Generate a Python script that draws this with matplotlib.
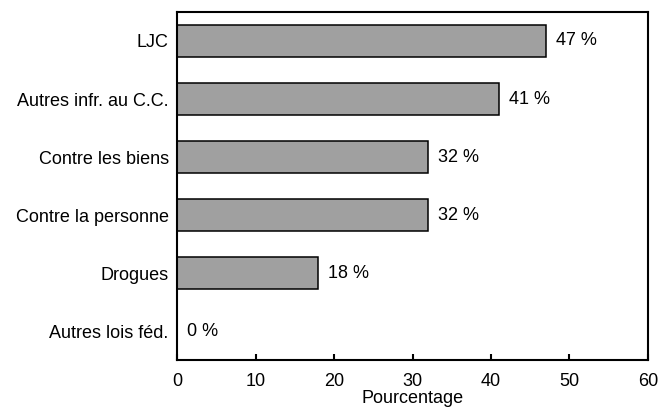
import matplotlib.pyplot as plt

plt.rcParams['font.family'] = ['Liberation Sans', 'DejaVu Sans']

categories = ['LJC', 'Autres infr. au C.C.', 'Contre les biens',
              'Contre la personne', 'Drogues', 'Autres lois féd.']
values = [47, 41, 32, 32, 18, 0]
xticks = [0, 10, 20, 30, 40, 50, 60]

fs = 13

fig = plt.figure(figsize=(6.69, 4.08), dpi=100)
ax = fig.add_axes([0.2646, 0.1176, 0.704, 0.853])

pos = list(range(len(categories)))
bars = ax.barh(pos, values, height=0.55, color='#a0a0a0',
               edgecolor='black', linewidth=1.1)
for b, v in zip(bars, values):
    ax.annotate(f'{v} %', (v, b.get_y() + b.get_height() / 2),
                xytext=(7, 0), textcoords='offset points',
                va='center', ha='left', fontsize=fs)

ax.set_xlim(0, 60)
ax.set_ylim(len(categories) - 0.5, -0.5)
ax.set_yticks(pos)
ax.set_yticklabels(categories, fontsize=fs)
ax.set_xticks(xticks)
ax.set_xticklabels([str(t) for t in xticks], fontsize=fs)
ax.tick_params(axis='y', length=0, pad=6)
ax.tick_params(axis='x', direction='in', length=4, width=1.5, pad=9)
for s in ax.spines.values():
    s.set_linewidth(1.5)
ax.set_xlabel('Pourcentage', fontsize=fs, labelpad=0)

fig.savefig('out.png', dpi=100)
